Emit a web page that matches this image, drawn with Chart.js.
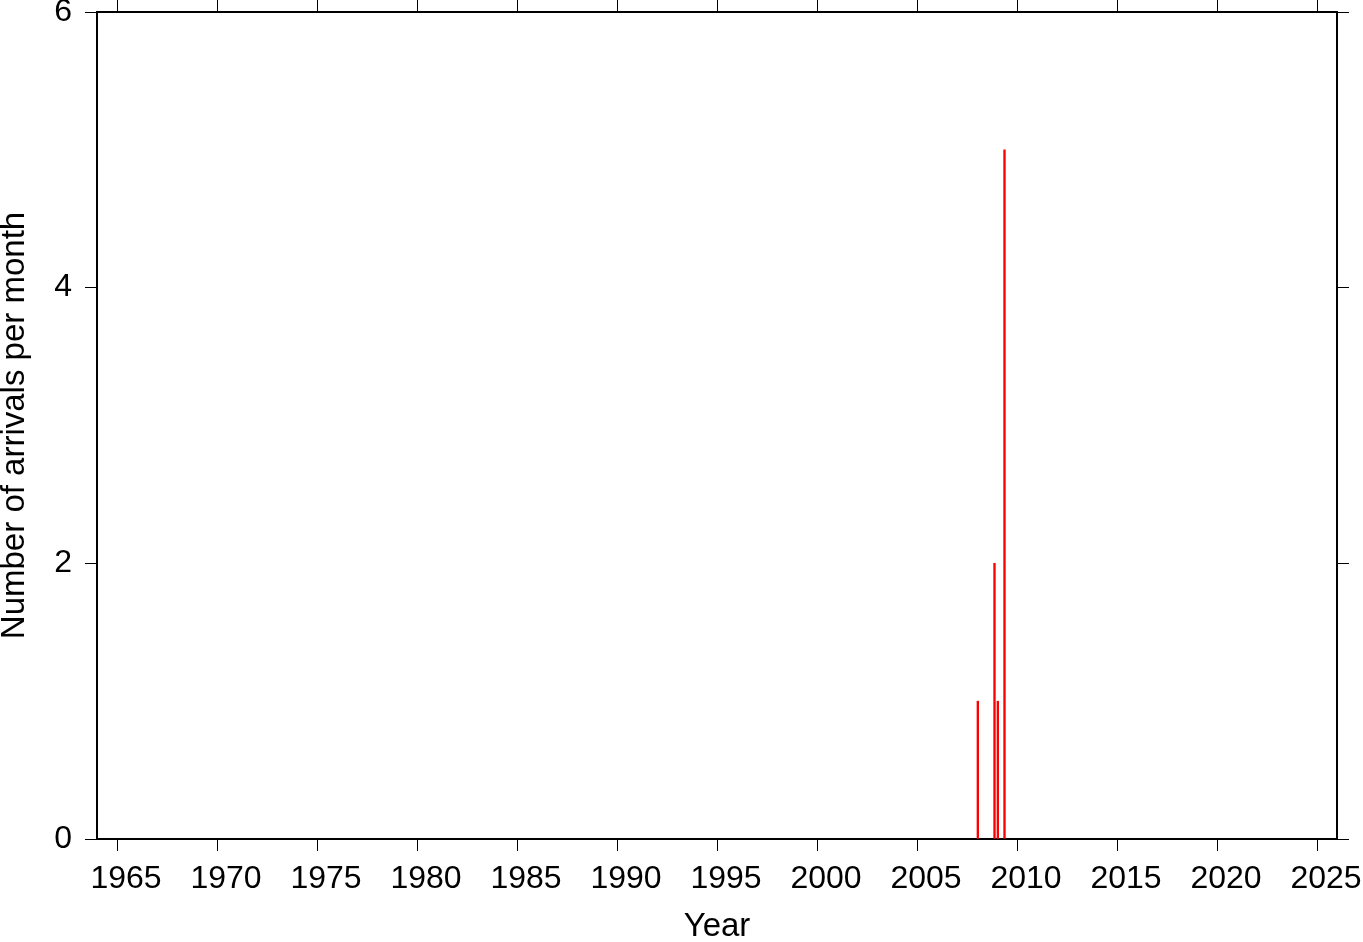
<!DOCTYPE html>
<html>
<head>
<meta charset="utf-8">
<script src="https://cdn.jsdelivr.net/npm/chart.js@4"></script>
<style>
  html, body { margin: 0; padding: 0; background: #fff; }
  #wrap { width: 1363px; height: 942px; }
</style>
</head>
<body>
<div id="wrap"><canvas id="c" width="1363" height="942"></canvas></div>
<script>
// monthly arrival counts (months with no arrivals are zero)
const months = ['2008-01', '2008-11', '2009-01', '2009-05'];
const counts = [1, 2, 1, 5];
const yearTicks = [1965, 1970, 1975, 1980, 1985, 1990, 1995, 2000, 2005, 2010, 2015, 2020, 2025];
const countTicks = [0, 2, 4, 6];

// centre of each month bin in decimal years
function monthCentre(m) {
  const [y, mo] = m.split('-').map(Number);
  return y + (mo - 0.5) / 12;
}
const points = months.map((m, i) => ({ x: monthCentre(m), y: counts[i] }));

const FAMILY = 'Liberation Sans, Arial, Helvetica, sans-serif';
const FONT = { family: FAMILY, size: 32 };
const TITLE_FONT = { family: FAMILY, size: 33, lineHeight: 0.92 };

const gridOpts = {
  drawOnChartArea: false,
  drawTicks: true,
  tickLength: 12,
  color: '#000',
  lineWidth: 1
};
const borderOpts = { display: true, color: '#000', width: 2 };

function setTicks(list) {
  return (scale) => { scale.ticks = list.map(v => ({ value: v })); };
}
// fixed box sizes so the plot frame lands where the reference has it
function fixSize(w, h) {
  return (scale) => {
    if (w != null) scale.width = w;
    if (h != null) scale.height = h;
    scale.paddingTop = 0;
    scale.paddingBottom = 0;
    scale.paddingLeft = 0;
    scale.paddingRight = 0;
  };
}

new Chart(document.getElementById('c').getContext('2d'), {
  type: 'bar',
  data: {
    datasets: [{
      data: points,
      backgroundColor: '#ff0000',
      borderWidth: 0,
      barThickness: 1.7,
      grouped: false
    }]
  },
  options: {
    responsive: false,
    animation: false,
    layout: { padding: 0 },
    plugins: { legend: { display: false }, tooltip: { enabled: false } },
    scales: {
      x: {
        type: 'linear',
        position: 'bottom',
        offset: false,
        min: 1964,
        max: 2026,
        afterBuildTicks: setTicks(yearTicks),
        afterFit: fixSize(null, 103),
        grid: { ...gridOpts, offset: false },
        border: borderOpts,
        ticks: { color: '#000', font: FONT, padding: 9, labelOffset: 9, maxRotation: 0, autoSkip: false, callback: v => String(v) },
        title: { display: true, text: 'Year', color: '#000', font: TITLE_FONT, padding: 0 }
      },
      xTop: {
        type: 'linear',
        position: 'top',
        offset: false,
        min: 1964,
        max: 2026,
        afterBuildTicks: setTicks(yearTicks),
        afterFit: fixSize(null, 12),
        grid: { ...gridOpts, offset: false },
        border: borderOpts,
        ticks: { display: false }
      },
      y: {
        type: 'linear',
        position: 'left',
        min: 0,
        max: 6,
        afterBuildTicks: setTicks(countTicks),
        afterFit: fixSize(97, null),
        grid: gridOpts,
        border: borderOpts,
        ticks: { color: '#000', font: FONT, padding: 13, callback: v => String(v) },
        title: { display: true, text: 'Number of arrivals per month', color: '#000', font: TITLE_FONT, padding: 0 }
      },
      yRight: {
        type: 'linear',
        position: 'right',
        min: 0,
        max: 6,
        afterBuildTicks: setTicks(countTicks),
        afterFit: fixSize(26, null),
        grid: gridOpts,
        border: borderOpts,
        ticks: { display: false }
      }
    }
  }
});
</script>
</body>
</html>
